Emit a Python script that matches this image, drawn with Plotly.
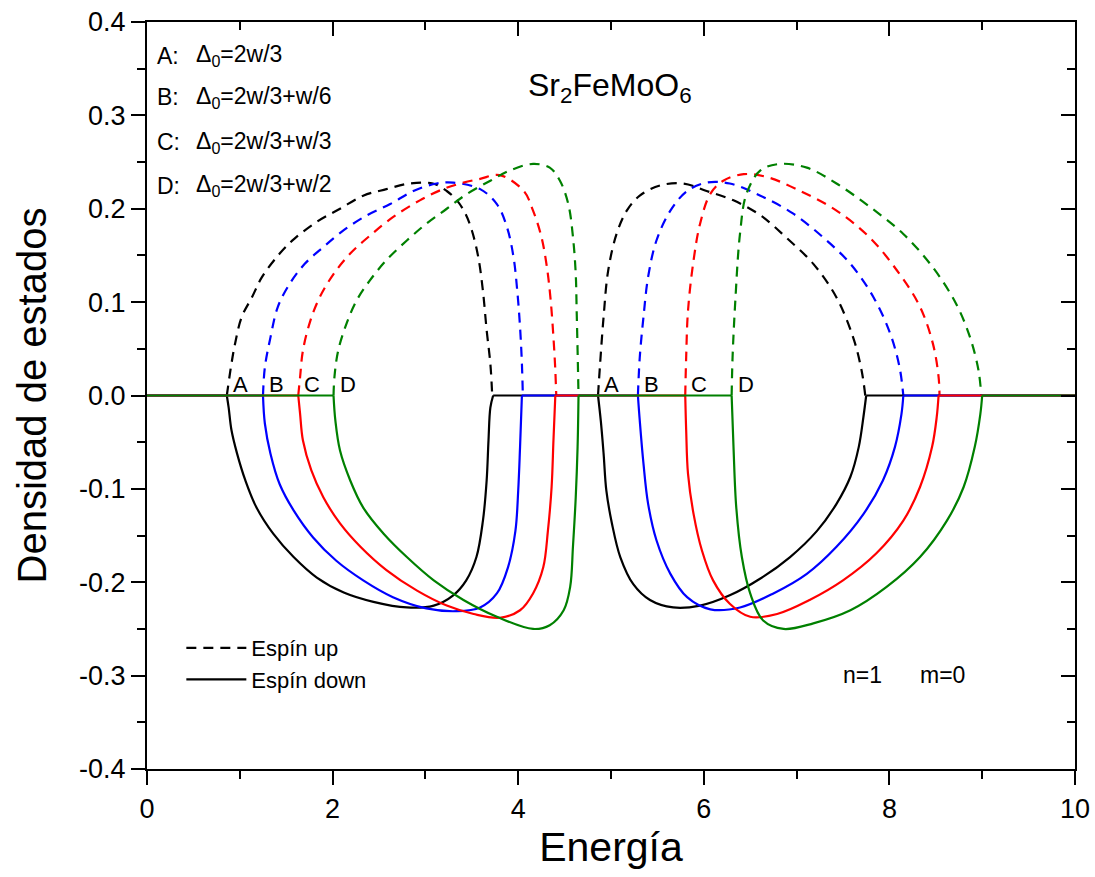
import plotly.graph_objects as go

# Density of states for Sr2FeMoO6, spin up (dashed) and spin down (solid)
# Cases A-D: different values of Delta_0

labels = ["A", "B", "C", "D"]
colors = ["#000000", "#0000FF", "#FF0000", "#008000"]
case_texts = [
    "Δ<sub>0</sub>=2w/3",
    "Δ<sub>0</sub>=2w/3+w/6",
    "Δ<sub>0</sub>=2w/3+w/3",
    "Δ<sub>0</sub>=2w/3+w/2",
]

# ---- case A ----
A_up_left_x = [0.86, 0.91, 0.95, 1.02, 1.13, 1.24, 1.43, 1.59, 1.83, 2.08, 2.33, 2.58, 2.83, 3.08, 3.23, 3.34, 3.43, 3.50, 3.57, 3.62, 3.66, 3.70, 3.72]
A_up_left_y = [0, 0.034, 0.056, 0.084, 0.105, 0.127, 0.152, 0.168, 0.186, 0.200, 0.214, 0.221, 0.227, 0.227, 0.219, 0.209, 0.195, 0.177, 0.148, 0.112, 0.070, 0.034, 0]
A_up_right_x = [4.86, 4.88, 4.92, 4.97, 5.06, 5.17, 5.31, 5.53, 5.78, 6.03, 6.32, 6.61, 6.89, 7.18, 7.43, 7.61, 7.70, 7.74]
A_up_right_y = [0, 0.030, 0.084, 0.134, 0.173, 0.198, 0.214, 0.225, 0.227, 0.219, 0.209, 0.193, 0.169, 0.141, 0.105, 0.062, 0.027, 0]
A_dn_left_x = [0.86, 0.88, 0.91, 0.97, 1.06, 1.18, 1.36, 1.58, 1.83, 2.12, 2.44, 2.80, 3.09, 3.30, 3.44, 3.55, 3.62, 3.66, 3.68, 3.70, 3.73]
A_dn_left_y = [0, -0.013, -0.037, -0.062, -0.091, -0.120, -0.148, -0.173, -0.195, -0.211, -0.221, -0.227, -0.225, -0.214, -0.198, -0.173, -0.134, -0.091, -0.048, -0.013, 0]
A_dn_right_x = [4.86, 4.89, 4.92, 4.95, 5.01, 5.10, 5.24, 5.42, 5.67, 5.96, 6.28, 6.61, 6.93, 7.22, 7.43, 7.58, 7.67, 7.72, 7.75]
A_dn_right_y = [0, -0.027, -0.062, -0.102, -0.137, -0.173, -0.202, -0.219, -0.227, -0.225, -0.214, -0.196, -0.173, -0.145, -0.116, -0.087, -0.055, -0.023, 0]

# ---- case B ----
B_up_left_x = [1.25, 1.27, 1.33, 1.41, 1.54, 1.70, 1.90, 2.12, 2.37, 2.62, 2.87, 3.12, 3.30, 3.59, 3.77, 3.88, 3.95, 3.99, 4.02, 4.04, 4.05]
B_up_left_y = [0, 0.030, 0.062, 0.095, 0.120, 0.141, 0.159, 0.177, 0.193, 0.205, 0.219, 0.227, 0.228, 0.221, 0.205, 0.180, 0.148, 0.112, 0.073, 0.034, 0]
B_up_right_x = [5.29, 5.31, 5.35, 5.40, 5.49, 5.64, 5.82, 6.03, 6.28, 6.61, 6.96, 7.29, 7.58, 7.83, 8.01, 8.11, 8.15]
B_up_right_y = [0, 0.041, 0.084, 0.127, 0.166, 0.198, 0.219, 0.228, 0.227, 0.214, 0.195, 0.169, 0.141, 0.105, 0.066, 0.030, 0]
B_dn_left_x = [1.25, 1.27, 1.33, 1.43, 1.58, 1.79, 2.04, 2.33, 2.65, 3.01, 3.34, 3.59, 3.77, 3.89, 3.97, 4.00, 4.02, 4.04]
B_dn_left_y = [0, -0.030, -0.062, -0.095, -0.123, -0.152, -0.177, -0.198, -0.216, -0.228, -0.231, -0.227, -0.212, -0.184, -0.145, -0.102, -0.055, 0]
B_dn_right_x = [5.29, 5.31, 5.35, 5.40, 5.49, 5.64, 5.82, 6.07, 6.39, 6.75, 7.11, 7.43, 7.72, 7.93, 8.06, 8.13, 8.15]
B_dn_right_y = [0, -0.027, -0.073, -0.116, -0.155, -0.191, -0.216, -0.229, -0.227, -0.212, -0.191, -0.162, -0.127, -0.091, -0.055, -0.020, 0]

# ---- case C ----
C_up_left_x = [1.63, 1.65, 1.68, 1.76, 1.86, 2.01, 2.19, 2.40, 2.65, 2.94, 3.19, 3.41, 3.59, 3.80, 4.06, 4.16, 4.25, 4.31, 4.35, 4.38, 4.40, 4.41]
C_up_left_y = [0, 0.020, 0.048, 0.080, 0.105, 0.130, 0.152, 0.171, 0.191, 0.209, 0.221, 0.228, 0.232, 0.236, 0.219, 0.198, 0.170, 0.137, 0.102, 0.062, 0.027, 0]
C_up_right_x = [5.80, 5.81, 5.83, 5.89, 5.96, 6.07, 6.21, 6.43, 6.68, 7.04, 7.43, 7.79, 8.11, 8.33, 8.47, 8.53, 8.54]
C_up_right_y = [0, 0.041, 0.091, 0.145, 0.184, 0.216, 0.230, 0.237, 0.234, 0.219, 0.198, 0.169, 0.130, 0.095, 0.055, 0.020, 0]
C_dn_left_x = [1.63, 1.65, 1.68, 1.77, 1.90, 2.08, 2.30, 2.58, 2.91, 3.23, 3.52, 3.80, 4.02, 4.16, 4.27, 4.32, 4.36, 4.38, 4.40]
C_dn_left_y = [0, -0.020, -0.048, -0.080, -0.109, -0.137, -0.162, -0.187, -0.209, -0.225, -0.234, -0.238, -0.230, -0.212, -0.184, -0.145, -0.098, -0.048, 0]
C_dn_right_x = [5.80, 5.81, 5.83, 5.89, 5.98, 6.10, 6.28, 6.50, 6.79, 7.14, 7.50, 7.86, 8.15, 8.33, 8.46, 8.51, 8.53]
C_dn_right_y = [0, -0.037, -0.084, -0.127, -0.166, -0.198, -0.223, -0.237, -0.234, -0.219, -0.198, -0.169, -0.134, -0.098, -0.055, -0.023, 0]

# ---- case D ----
D_up_left_x = [2.01, 2.02, 2.06, 2.15, 2.26, 2.40, 2.58, 2.80, 3.01, 3.23, 3.45, 3.70, 3.91, 4.16, 4.34, 4.45, 4.54, 4.59, 4.62, 4.63, 4.64, 4.65]
D_up_left_y = [0, 0.020, 0.048, 0.077, 0.102, 0.123, 0.145, 0.166, 0.184, 0.200, 0.216, 0.230, 0.241, 0.248, 0.244, 0.230, 0.205, 0.170, 0.130, 0.091, 0.048, 0]
D_up_right_x = [6.30, 6.31, 6.34, 6.39, 6.46, 6.61, 6.82, 7.11, 7.43, 7.79, 8.15, 8.47, 8.72, 8.87, 8.96, 8.99]
D_up_right_y = [0, 0.041, 0.102, 0.173, 0.216, 0.241, 0.248, 0.244, 0.227, 0.202, 0.173, 0.137, 0.098, 0.062, 0.027, 0]
D_dn_left_x = [2.01, 2.03, 2.08, 2.19, 2.33, 2.55, 2.80, 3.09, 3.41, 3.77, 4.16, 4.34, 4.49, 4.56, 4.59, 4.62, 4.64, 4.65]
D_dn_left_y = [0, -0.027, -0.059, -0.091, -0.120, -0.148, -0.173, -0.198, -0.219, -0.237, -0.250, -0.246, -0.230, -0.205, -0.162, -0.109, -0.055, 0]
D_dn_right_x = [6.30, 6.32, 6.35, 6.41, 6.50, 6.64, 6.86, 7.18, 7.58, 7.97, 8.33, 8.62, 8.80, 8.92, 8.98, 9.00]
D_dn_right_y = [0, -0.055, -0.120, -0.173, -0.212, -0.241, -0.250, -0.244, -0.230, -0.205, -0.173, -0.134, -0.098, -0.055, -0.020, 0]

E_MIN, E_MAX = 0, 10
y_ticks = [-0.4, -0.3, -0.2, -0.1, 0.0, 0.1, 0.2, 0.3, 0.4]
y_tick_text = ["-0.4", "-0.3", "-0.2", "-0.1", "0.0", "0.1", "0.2", "0.3", "0.4"]

up_bands = [
    (A_up_left_x, A_up_left_y, A_up_right_x, A_up_right_y),
    (B_up_left_x, B_up_left_y, B_up_right_x, B_up_right_y),
    (C_up_left_x, C_up_left_y, C_up_right_x, C_up_right_y),
    (D_up_left_x, D_up_left_y, D_up_right_x, D_up_right_y),
]
dn_bands = [
    (A_dn_left_x, A_dn_left_y, A_dn_right_x, A_dn_right_y),
    (B_dn_left_x, B_dn_left_y, B_dn_right_x, B_dn_right_y),
    (C_dn_left_x, C_dn_left_y, C_dn_right_x, C_dn_right_y),
    (D_dn_left_x, D_dn_left_y, D_dn_right_x, D_dn_right_y),
]

FONT = "Liberation Sans, Arial, Helvetica, sans-serif"
LW = 2.2
DASH = "10px,7px"

fig = go.Figure()

# spin up: two bands, dashed, gap between them
for (lx, ly, rx, ry), col, lab in zip(up_bands, colors, labels):
    fig.add_trace(go.Scatter(
        x=lx + [None] + rx, y=ly + [None] + ry,
        mode="lines", line=dict(color=col, width=LW, dash=DASH, shape="spline"),
        name=f"{lab} up", showlegend=False, hoverinfo="skip",
    ))

# spin down: smooth bands, plus straight zero-level stretches outside them
for (lx, ly, rx, ry), col, lab in zip(dn_bands, colors, labels):
    fig.add_trace(go.Scatter(
        x=lx + [None] + rx, y=ly + [None] + ry,
        mode="lines", line=dict(color=col, width=LW, shape="spline"),
        name=f"{lab} down", showlegend=False, hoverinfo="skip",
    ))
    fig.add_trace(go.Scatter(
        x=[E_MIN, lx[0], None, lx[-1], rx[0], None, rx[-1], E_MAX],
        y=[0, ly[0], None, ly[-1], ry[0], None, ry[-1], 0],
        mode="lines", line=dict(color=col, width=LW, shape="linear"),
        name=f"{lab} down (gap)", showlegend=False, hoverinfo="skip",
    ))

# legend entries
fig.add_trace(go.Scatter(x=[None], y=[None], mode="lines",
                         line=dict(color="black", width=LW, dash=DASH), name="Espín up"))
fig.add_trace(go.Scatter(x=[None], y=[None], mode="lines",
                         line=dict(color="black", width=LW), name="Espín down"))

# empty trace that carries the top/right mirror axes
fig.add_trace(go.Scatter(x=[None], y=[None], xaxis="x2", yaxis="y2",
                         showlegend=False, hoverinfo="skip"))

# band-edge letters on the zero line
annotations = []
for (lx, _, rx, _), lab in zip(dn_bands, labels):
    for x0 in (lx[0], rx[0]):
        annotations.append(dict(x=x0, y=0, xref="x", yref="y", text=lab, showarrow=False,
                                xanchor="left", yanchor="bottom", xshift=4, yshift=-3,
                                font=dict(size=22, color="black", family=FONT)))

# case list in the upper left corner
row_y = [0.955, 0.899, 0.839, 0.781]
for lab, txt, yy in zip(labels, case_texts, row_y):
    annotations.append(dict(x=0.009, y=yy, xref="paper", yref="paper", text=lab + ":",
                            showarrow=False, xanchor="left", yanchor="middle",
                            font=dict(size=23, color="black", family=FONT)))
    annotations.append(dict(x=0.051, y=yy, xref="paper", yref="paper", text=txt,
                            showarrow=False, xanchor="left", yanchor="middle",
                            font=dict(size=23, color="black", family=FONT)))

annotations.append(dict(x=0.499, y=0.912, xref="paper", yref="paper",
                        text="Sr<sub>2</sub>FeMoO<sub>6</sub>", showarrow=False,
                        xanchor="center", yanchor="middle",
                        font=dict(size=32, color="black", family=FONT)))
annotations.append(dict(x=0.771, y=0.126, xref="paper", yref="paper", text="n=1",
                        showarrow=False, xanchor="center", yanchor="middle",
                        font=dict(size=23, color="black", family=FONT)))
annotations.append(dict(x=0.857, y=0.126, xref="paper", yref="paper", text="m=0",
                        showarrow=False, xanchor="center", yanchor="middle",
                        font=dict(size=23, color="black", family=FONT)))

axis_common = dict(showgrid=False, zeroline=False, showline=True, linecolor="black",
                   linewidth=2.2, tickcolor="black", tickwidth=2, ticklen=14)

fig.update_layout(
    width=1095, height=877,
    margin=dict(l=147, r=20, t=22, b=108, autoexpand=False),
    paper_bgcolor="white", plot_bgcolor="white",
    font=dict(family=FONT, color="black"),
    showlegend=True,
    legend=dict(x=0.037, y=0.19, xanchor="left", yanchor="top",
                bgcolor="rgba(0,0,0,0)", font=dict(size=22, family=FONT),
                itemwidth=60, tracegroupgap=0),
    annotations=annotations,
    xaxis=dict(range=[E_MIN, E_MAX], dtick=2, tick0=0, ticks="outside",
               minor=dict(tickmode="linear", tick0=0, dtick=1, ticklen=8, tickwidth=2,
                          tickcolor="black", ticks="outside"),
               tickfont=dict(size=27, family=FONT),
               title=dict(text="Energía", font=dict(size=41, family=FONT), standoff=10),
               automargin=False, **axis_common),
    yaxis=dict(range=[-0.4, 0.4], tickmode="array", tickvals=y_ticks, ticktext=y_tick_text,
               ticks="outside",
               minor=dict(tickmode="linear", tick0=0, dtick=0.05, ticklen=8, tickwidth=2,
                          tickcolor="black", ticks="outside"),
               tickfont=dict(size=27, family=FONT),
               title=dict(text="Densidad de estados", font=dict(size=40, family=FONT), standoff=20),
               automargin=False, **axis_common),
    xaxis2=dict(range=[E_MIN, E_MAX], overlaying="x", side="top", anchor="y2",
                dtick=2, tick0=0, ticks="inside", showticklabels=False,
                minor=dict(tickmode="linear", tick0=0, dtick=1, ticklen=8, tickwidth=2,
                           tickcolor="black", ticks="inside"),
                **axis_common),
    yaxis2=dict(range=[-0.4, 0.4], overlaying="y", side="right", anchor="x2",
                dtick=0.1, tick0=0, ticks="inside", showticklabels=False,
                minor=dict(tickmode="linear", tick0=0, dtick=0.05, ticklen=8, tickwidth=2,
                           tickcolor="black", ticks="inside"),
                **axis_common),
)

fig.write_html("out.html", config={"displayModeBar": False})
